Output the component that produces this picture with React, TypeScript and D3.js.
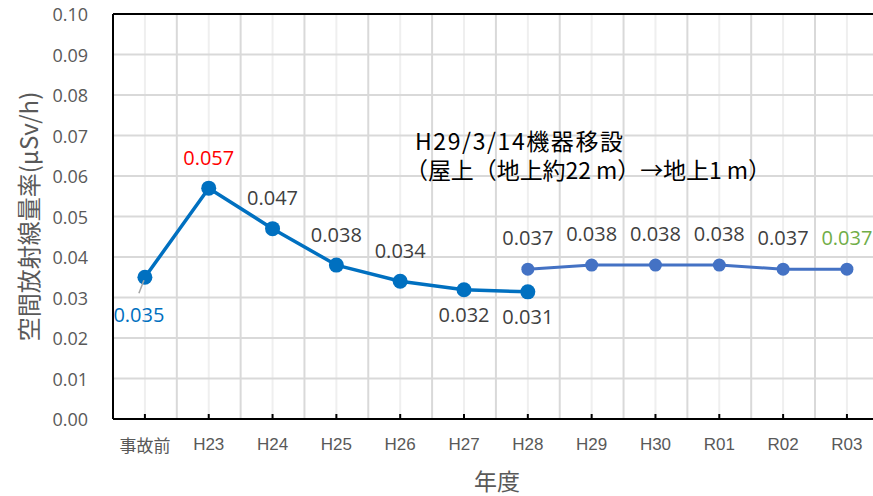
import React from 'react';
import * as d3 from 'd3';

const categories = ['事故前', 'H23', 'H24', 'H25', 'H26', 'H27', 'H28', 'H29', 'H30', 'R01', 'R02', 'R03'];
const seriesBefore: (number | null)[] = [0.035, 0.057, 0.047, 0.038, 0.034, 0.0319, 0.0314, null, null, null, null, null];
const seriesAfter: (number | null)[] = [null, null, null, null, null, null, 0.037, 0.038, 0.038, 0.038, 0.037, 0.037];
const yTicks = [0, 0.01, 0.02, 0.03, 0.04, 0.05, 0.06, 0.07, 0.08, 0.09, 0.1];
const yTitle = '空間放射線量率(μSv/h)';
const xTitle = '年度';
const noteLines = ['H29/3/14機器移設', '（屋上（地上約22 m）→地上1 m）'];

// label placement / colour per point (styling)
const beforePlace = ['leader', 'above', 'above', 'above', 'above', 'below', 'below'];
const beforeColor = ['#0070C0', '#FF0000', '#404040', '#404040', '#404040', '#404040', '#404040'];
const afterColor = ['#404040', '#404040', '#404040', '#404040', '#404040', '#70AD47'];

const W = 873, H = 496;
const left = 113, top = 14, bottom = 419;
const step = 63.82;

export default function App() {
  const x = d3.scaleBand<string>().domain(categories).range([left, left + step * categories.length]).padding(0);
  const bw = x.bandwidth();
  const cx = (c: string) => (x(c) as number) + bw / 2;
  const y = d3.scaleLinear().domain([0, 0.1]).range([bottom, top]);
  const right = left + step * categories.length;

  const line = d3.line<[string, number | null]>()
    .defined(d => d[1] != null)
    .x(d => cx(d[0]))
    .y(d => y(d[1] as number));

  const d1 = categories.map((c, i) => [c, seriesBefore[i]] as [string, number | null]);
  const d2 = categories.map((c, i) => [c, seriesAfter[i]] as [string, number | null]);
  const fmt = d3.format('.3f');

  const c1 = '#0070C0';
  const c2 = '#4472C4';
  const labelFont = "'Open Sans', sans-serif";

  return (
    <svg width={W} height={H} style={{ position: 'absolute', left: 0, top: 0, background: '#fff' }}>
      <rect x={0} y={0} width={W} height={H} fill="#fff" />
      {/* vertical gridlines: minor at centres, major at boundaries */}
      {categories.map(c => (
        <line key={'mn' + c} x1={cx(c)} x2={cx(c)} y1={top} y2={bottom} stroke="#efefef" strokeWidth={2} />
      ))}
      {categories.map((c, i) => i > 0 ? (
        <line key={'mj' + c} x1={x(c) as number} x2={x(c) as number} y1={top} y2={bottom} stroke="#d9d9d9" strokeWidth={2} />
      ) : null)}
      {yTicks.map(t => (
        <line key={'h' + t} x1={left} x2={right} y1={y(t)} y2={y(t)} stroke="#d9d9d9" strokeWidth={2} />
      ))}
      {/* plot border */}
      <line x1={left} x2={right} y1={top} y2={top} stroke="#000" strokeWidth={2} />
      <line x1={left} x2={left} y1={top} y2={bottom} stroke="#000" strokeWidth={2} />
      <line x1={left} x2={right} y1={bottom} y2={bottom} stroke="#000" strokeWidth={2} />
      {categories.map(c => (
        <line key={'tk' + c} x1={cx(c)} x2={cx(c)} y1={bottom - 5} y2={bottom} stroke="#000" strokeWidth={2} />
      ))}
      {/* y tick labels */}
      {yTicks.map(t => (
        <text key={'yl' + t} x={88} y={y(t)} textAnchor="end" dominantBaseline="central"
          fontFamily={labelFont} fontSize={18} fill="#595959">{d3.format('.2f')(t)}</text>
      ))}
      {/* x tick labels */}
      {categories.map(c => (
        <text key={'xl' + c} x={cx(c)} y={444} textAnchor="middle" dominantBaseline="central"
          fontFamily={/^[A-Z]/.test(c) ? "'Liberation Sans', Arial, sans-serif" : "'Noto Sans CJK JP', sans-serif"}
          fontSize={17} fill="#595959">{c}</text>
      ))}
      {/* axis titles */}
      <text x={497} y={490} textAnchor="middle"
        fontFamily="'Noto Sans CJK JP', sans-serif" fontSize={23} fill="#595959">{xTitle}</text>
      <text transform={`translate(27,${(top + bottom) / 2}) rotate(-90)`} textAnchor="middle" dominantBaseline="central"
        fontFamily="'Noto Sans CJK JP', sans-serif" fontSize={24} fill="#595959">{yTitle}</text>

      {/* lines */}
      <path d={line(d1) || ''} fill="none" stroke={c1} strokeWidth={3.5} strokeLinejoin="round" />
      <path d={line(d2) || ''} fill="none" stroke={c2} strokeWidth={3} strokeLinejoin="round" />
      {d1.filter(d => d[1] != null).map(d => (
        <circle key={'p1' + d[0]} cx={cx(d[0])} cy={y(d[1] as number)} r={7.5} fill={c1} />
      ))}
      {d2.filter(d => d[1] != null).map(d => (
        <circle key={'p2' + d[0]} cx={cx(d[0])} cy={y(d[1] as number)} r={6.5} fill={c2} />
      ))}

      {/* data labels, series 1 */}
      {d1.filter(d => d[1] != null).map((d, i) => {
        const px = cx(d[0]);
        const py = y(d[1] as number);
        const place = beforePlace[i];
        if (place === 'leader') {
          return (
            <g key={'l1' + d[0]}>
              <line x1={px - 6} y1={py + 16} x2={px - 1} y2={py + 3} stroke="#a6a6a6" strokeWidth={1.5} />
              <text x={px - 6} y={py + 37} textAnchor="middle" dominantBaseline="central"
                fontFamily={labelFont} fontSize={20} fill={beforeColor[i]}>{fmt(d[1] as number)}</text>
            </g>
          );
        }
        return (
          <text key={'l1' + d[0]} x={px} y={place === 'above' ? py - 31 : py + 25} textAnchor="middle" dominantBaseline="central"
            fontFamily={labelFont} fontSize={20} fill={beforeColor[i]}>{fmt(d[1] as number)}</text>
        );
      })}
      {/* data labels, series 2 */}
      {d2.filter(d => d[1] != null).map((d, i) => (
        <text key={'l2' + d[0]} x={cx(d[0])} y={y(d[1] as number) - 32} textAnchor="middle" dominantBaseline="central"
          fontFamily={labelFont} fontSize={20} fill={afterColor[i]}>{fmt(d[1] as number)}</text>
      ))}

      {/* annotation */}
      <text fontFamily="'Noto Sans CJK JP', sans-serif" fontSize={23} fill="#000">
        <tspan x={415} y={150} textLength={208} lengthAdjust="spacing">{noteLines[0]}</tspan>
        <tspan x={405} y={179} textLength={366} lengthAdjust="spacing">{noteLines[1]}</tspan>
      </text>
    </svg>
  );
}
